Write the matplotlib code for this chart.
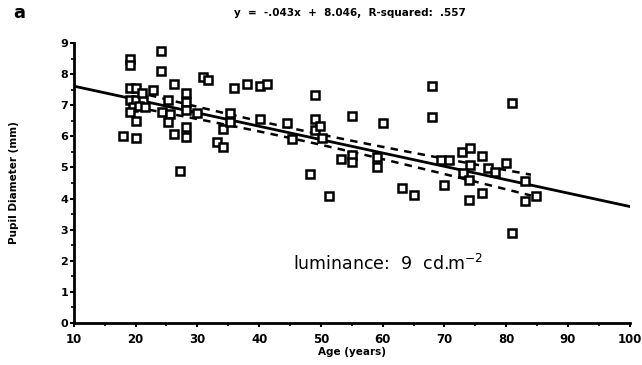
import numpy as np
import matplotlib
matplotlib.use("Agg")
import matplotlib.pyplot as plt
from matplotlib.ticker import MultipleLocator

# ---- data ----
age = [18.0, 19.1, 19.1, 19.1, 20.0, 19.1, 20.0, 21.2, 19.5, 20.5, 21.5, 19.1, 20.0, 20.0,
       21.0, 22.8, 24.1, 24.1, 24.2, 25.2, 25.5, 25.2, 26.2, 26.2, 27.2, 28.1, 28.1, 28.1,
       28.1, 28.1, 29.9, 30.9, 31.8, 33.1, 34.1, 34.1, 35.2, 35.2, 36.0, 38.0, 40.1, 41.2,
       40.1, 44.5, 45.3, 48.2, 49.0, 49.0, 49.0, 49.8, 50.1, 51.3, 53.2, 55.0, 55.0, 55.0,
       59.0, 59.0, 60.0, 63.1, 65.0, 67.9, 67.9, 69.5, 70.8, 70.0, 72.9, 74.1, 74.1, 73.0,
       73.9, 73.9, 76.0, 76.0, 77.0, 78.1, 80.0, 81.0, 81.0, 83.0, 83.0, 84.8]
diameter = [6.02, 8.49, 8.30, 7.56, 7.56, 7.17, 7.17, 7.17, 6.95, 6.98, 6.95, 6.78, 6.50, 5.95,
            7.40, 7.49, 8.75, 8.10, 6.78, 7.17, 6.72, 6.46, 7.68, 6.08, 4.89, 7.40, 7.10, 6.85,
            6.30, 5.98, 6.75, 7.91, 7.81, 5.82, 5.66, 6.24, 6.75, 6.46, 7.56, 7.68, 7.62, 7.68,
            6.56, 6.43, 5.92, 4.79, 7.33, 6.56, 6.20, 6.33, 5.95, 4.08, 5.27, 6.65, 5.40, 5.18,
            5.34, 5.02, 6.43, 4.34, 4.12, 7.62, 6.62, 5.24, 5.24, 4.44, 5.50, 5.63, 5.08, 4.82,
            4.60, 3.96, 5.37, 4.18, 4.98, 4.86, 5.14, 7.07, 2.89, 4.57, 3.92, 4.08]
slope = -0.043
intercept = 8.046
band_range = [20, 84]

x = np.array(age)
y = np.array(diameter)

fig = plt.figure(figsize=(6.42, 3.65), dpi=100)
ax = fig.add_axes([0.115, 0.115, 0.866, 0.767])

ax.plot(x, y, ls='none', marker='s', ms=5.8, mfc='white', mec='black', mew=1.8, zorder=3)

xl = np.array([10, 100])
ax.plot(xl, intercept + slope * xl, color='black', lw=2.0, zorder=2)

# confidence band of the mean
n = len(x)
resid = y - (intercept + slope * x)
s = np.sqrt(np.sum(resid ** 2) / (n - 2))
sxx = np.sum((x - x.mean()) ** 2)
xb = np.linspace(band_range[0], band_range[1], 100)
half = 1.66 * s * np.sqrt(1 / n + (xb - x.mean()) ** 2 / sxx)
yb = intercept + slope * xb
ax.plot(xb, yb + half, color='black', lw=1.8, ls=(0, (3, 2.5)), zorder=2)
ax.plot(xb, yb - half, color='black', lw=1.8, ls=(0, (3, 2.5)), zorder=2)

ax.set_xlim(10, 100)
ax.set_ylim(0, 9)
ax.xaxis.set_major_locator(MultipleLocator(10))
ax.xaxis.set_minor_locator(MultipleLocator(5))
ax.yaxis.set_major_locator(MultipleLocator(1))
ax.yaxis.set_minor_locator(MultipleLocator(0.5))
for sp in ['top', 'right']:
    ax.spines[sp].set_visible(False)
for sp in ['left', 'bottom']:
    ax.spines[sp].set_linewidth(2.0)
ax.tick_params(axis='x', which='major', direction='out', length=3, width=1.5, labelsize=8.5, pad=4)
ax.tick_params(axis='y', which='major', direction='out', length=3, width=1.5, labelsize=8, pad=1)
ax.tick_params(which='minor', direction='out', length=2, width=1.2)
for lab in ax.get_xticklabels() + ax.get_yticklabels():
    lab.set_fontweight('bold')

ax.set_xlabel('Age (years)', fontsize=7.5, fontweight='bold', labelpad=1)
ax.set_ylabel('Pupil Diameter (mm)', fontsize=7.5, fontweight='bold', labelpad=30)

fig.text(0.545, 0.965, 'y  =  -.043x  +  8.046,  R-squared:  .557', ha='center', va='center',
         fontsize=7.5, fontweight='bold')
fig.text(0.02, 0.965, 'a', ha='left', va='center', fontsize=13, fontweight='bold')
ax.text(0.565, 0.21, 'luminance:  9  cd.m$^{-2}$', transform=ax.transAxes, ha='center',
        va='center', fontsize=12.5)

fig.savefig('out.png', dpi=100)
